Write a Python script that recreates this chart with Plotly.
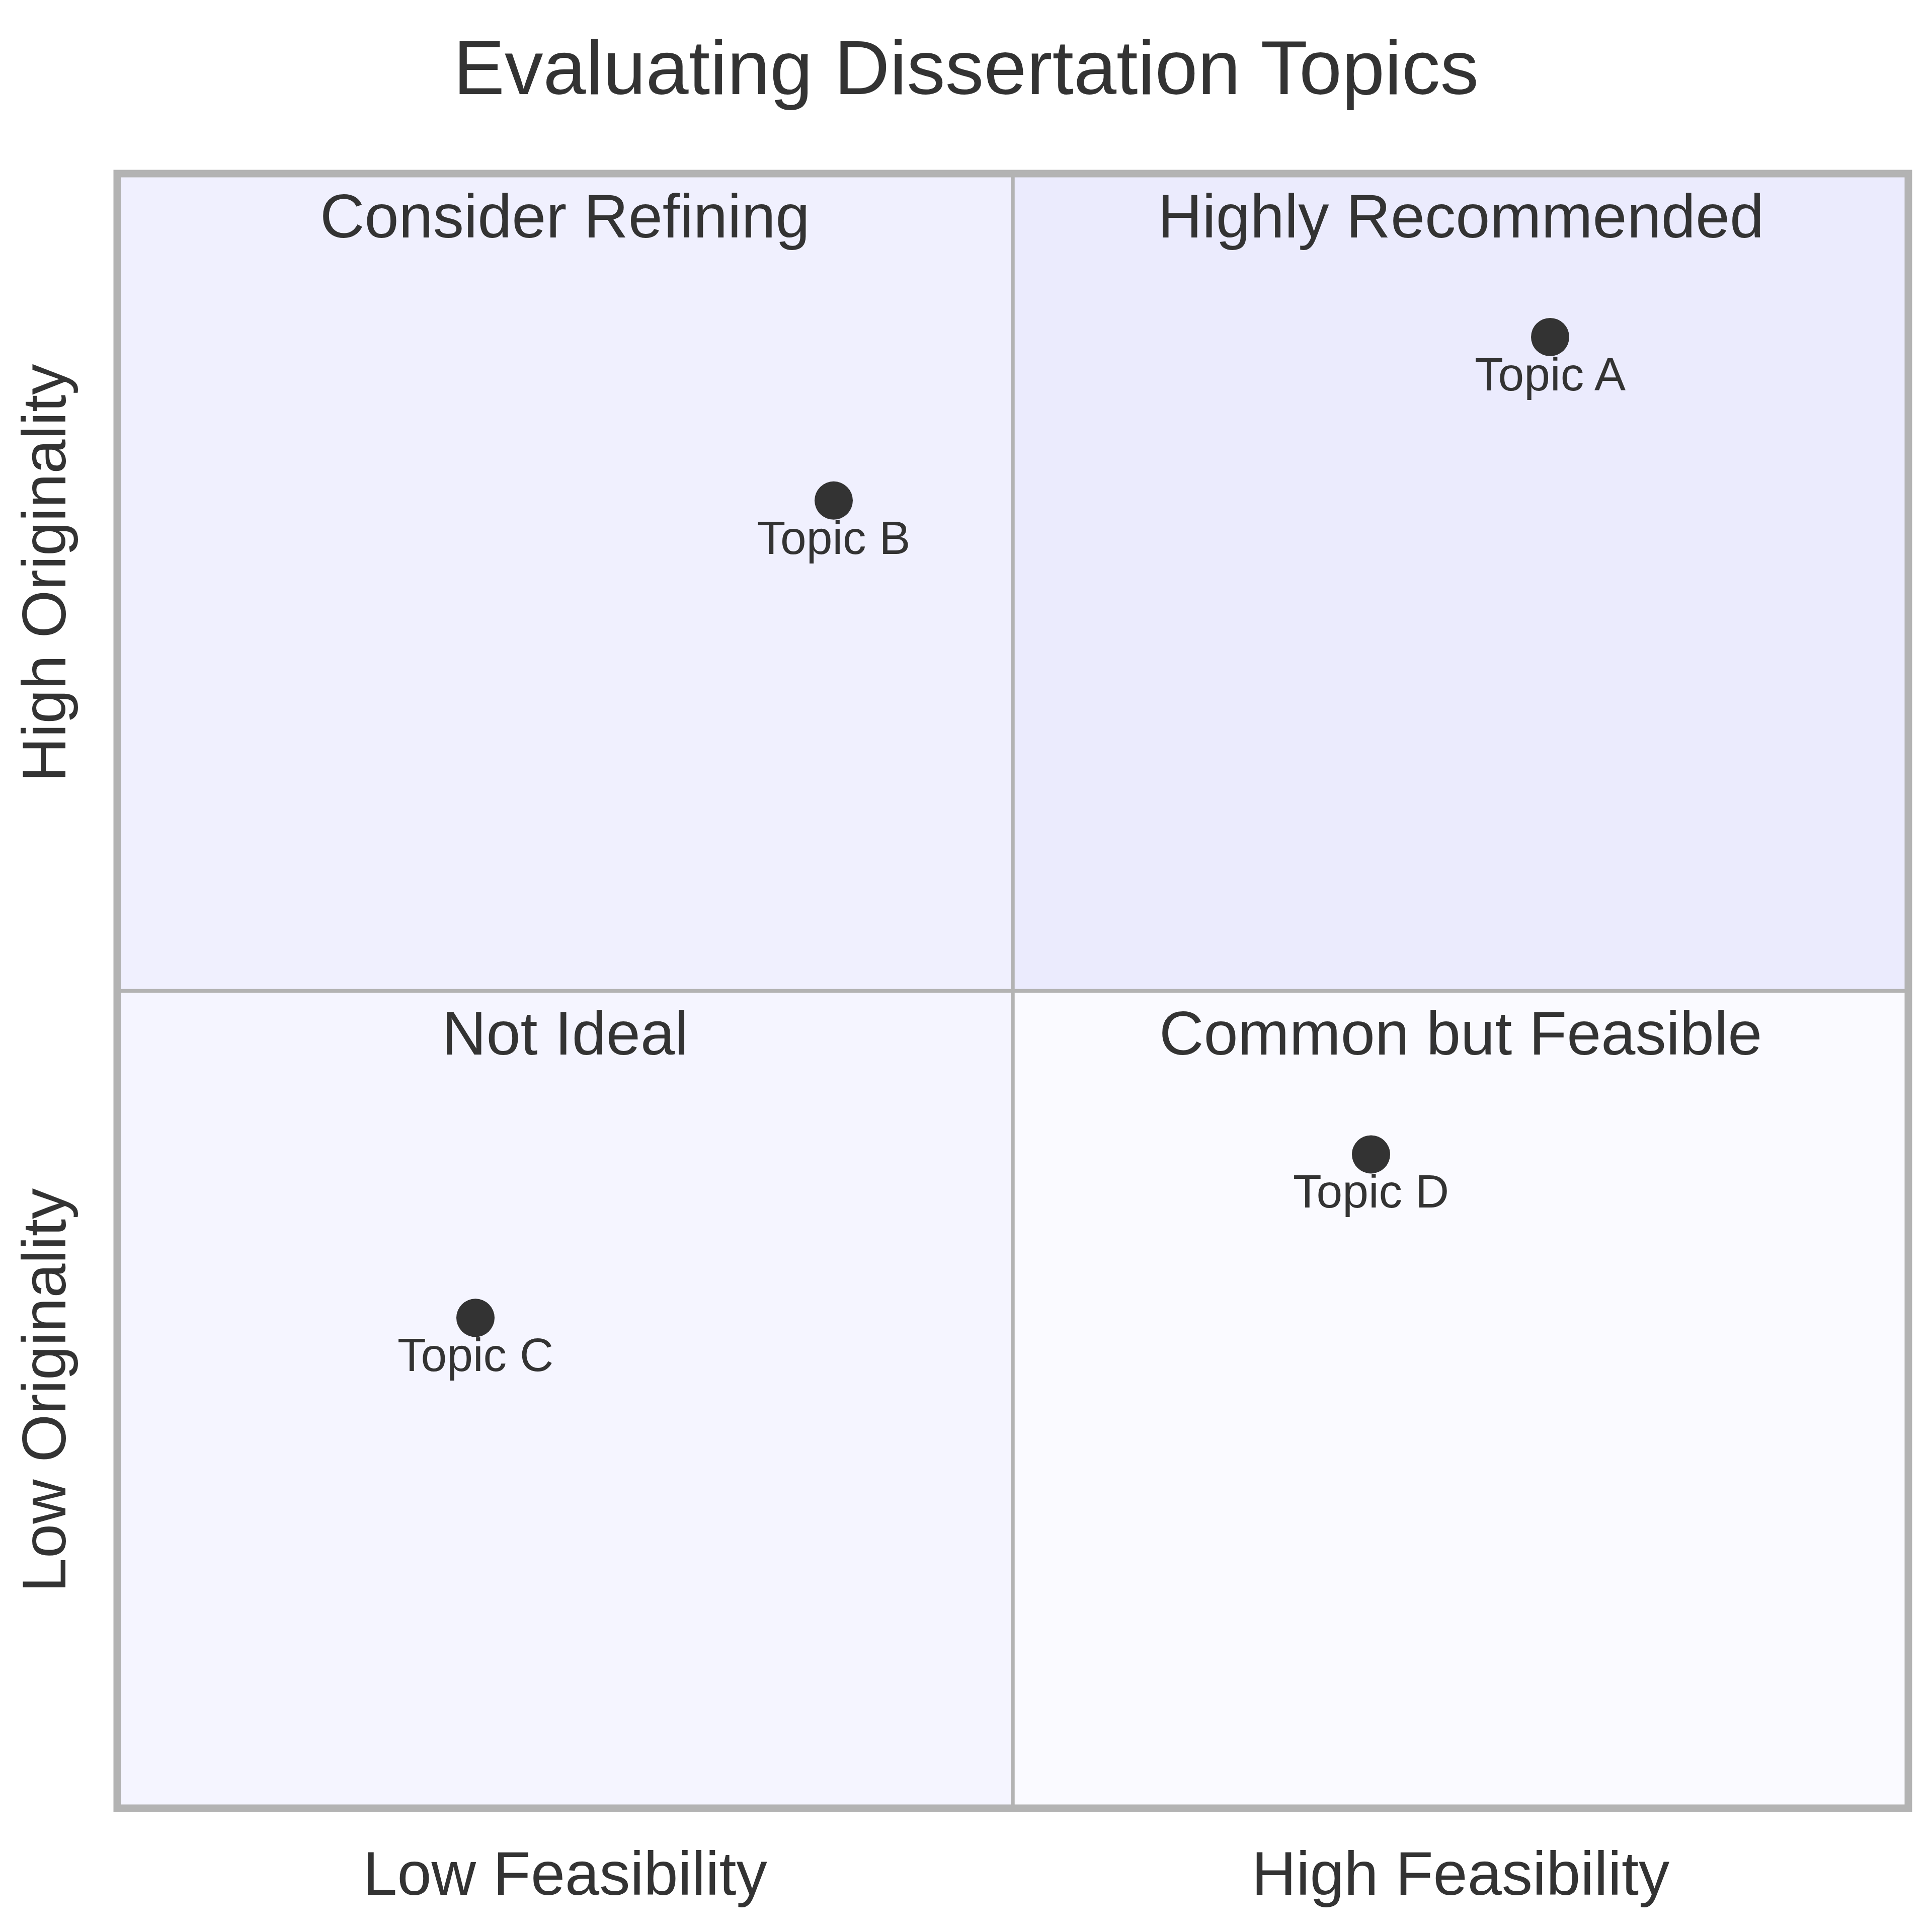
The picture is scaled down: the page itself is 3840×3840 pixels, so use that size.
import plotly.graph_objects as go

topics = ["Topic A", "Topic B", "Topic C", "Topic D"]
feasibility = [0.8, 0.4, 0.2, 0.7]
originality = [0.9, 0.8, 0.3, 0.4]

x_tick_vals = [0.25, 0.75]
x_tick_text = ["Low Feasibility", "High Feasibility"]
y_tick_vals = [0.25, 0.75]
y_tick_text = ["Low Originality", "High Originality"]

quadrant_names = ["Consider Refining", "Highly Recommended", "Not Ideal", "Common but Feasible"]
quadrant_x = [0.25, 0.75, 0.25, 0.75]
quadrant_y = [0.974, 0.974, 0.474, 0.474]
quadrant_colors = ["#F0F0FE", "#EBEBFD", "#F5F5FF", "#FAFAFF"]
quadrant_boxes = [(0, 0.5, 0.5, 1), (0.5, 1, 0.5, 1), (0, 0.5, 0, 0.5), (0.5, 1, 0, 0.5)]

FONT = "Arial, Liberation Sans, sans-serif"
TXT = "#333333"
GRID = "#B3B3B3"

fig = go.Figure()

shapes = []
for (x0, x1, y0, y1), c in zip(quadrant_boxes, quadrant_colors):
    shapes.append(dict(type="rect", xref="x", yref="y", x0=x0, x1=x1, y0=y0, y1=y1,
                       fillcolor=c, line=dict(width=0), layer="below"))
shapes.append(dict(type="line", xref="x", yref="y", x0=0.5, x1=0.5, y0=0, y1=1,
                   line=dict(color=GRID, width=7.5), layer="below"))
shapes.append(dict(type="line", xref="x", yref="y", x0=0, x1=1, y0=0.5, y1=0.5,
                   line=dict(color=GRID, width=7.5), layer="below"))
# outer frame, centred on the plot-area edges
shapes.append(dict(type="rect", xref="paper", yref="paper", x0=0, x1=1, y0=0, y1=1,
                   line=dict(color=GRID, width=15), fillcolor="rgba(0,0,0,0)", layer="above"))

# visible markers
fig.add_trace(go.Scatter(
    x=feasibility, y=originality, mode="markers",
    marker=dict(size=76, color=TXT, line=dict(width=0)),
    showlegend=False, hoverinfo="skip",
))
# labels below the markers
fig.add_trace(go.Scatter(
    x=feasibility, y=originality, mode="markers+text", text=topics,
    textposition="bottom center",
    textfont=dict(family=FONT, size=93, color=TXT),
    marker=dict(size=56, color="rgba(0,0,0,0)", line=dict(width=0)),
    showlegend=False, hoverinfo="text",
))

annotations = []
for name, qx, qy in zip(quadrant_names, quadrant_x, quadrant_y):
    annotations.append(dict(x=qx, y=qy, xref="x", yref="y", text=name, showarrow=False,
                            font=dict(family=FONT, size=122.5, color=TXT),
                            xanchor="center", yanchor="middle"))

fig.update_layout(
    width=3840, height=3840,
    margin=dict(l=232.5, r=46.5, t=344.5, b=246),
    paper_bgcolor="white", plot_bgcolor="white",
    title=dict(text="Evaluating Dissertation Topics", x=0.5, xanchor="center",
               y=1 - 133 / 3840, yanchor="middle",
               font=dict(family=FONT, size=153, color=TXT)),
    shapes=shapes, annotations=annotations,
    font=dict(family=FONT, color=TXT),
)
fig.update_xaxes(range=[0, 1], tickvals=x_tick_vals, ticktext=x_tick_text,
                 tickfont=dict(family=FONT, size=122.5, color=TXT),
                 showgrid=False, zeroline=False, showline=True, linecolor="rgba(0,0,0,0)",
                 linewidth=15, mirror=True, ticks="outside", ticklen=10,
                 tickcolor="rgba(0,0,0,0)", fixedrange=True)
fig.update_yaxes(range=[0, 1], tickvals=y_tick_vals, ticktext=y_tick_text, tickangle=-90,
                 tickfont=dict(family=FONT, size=122.5, color=TXT),
                 showgrid=False, zeroline=False, showline=True, linecolor="rgba(0,0,0,0)",
                 linewidth=15, mirror=True, ticks="outside", ticklen=39,
                 tickcolor="rgba(0,0,0,0)", fixedrange=True)

fig.write_html("out.html", config={"displayModeBar": False},
               post_script="document.body.style.margin='0';")
